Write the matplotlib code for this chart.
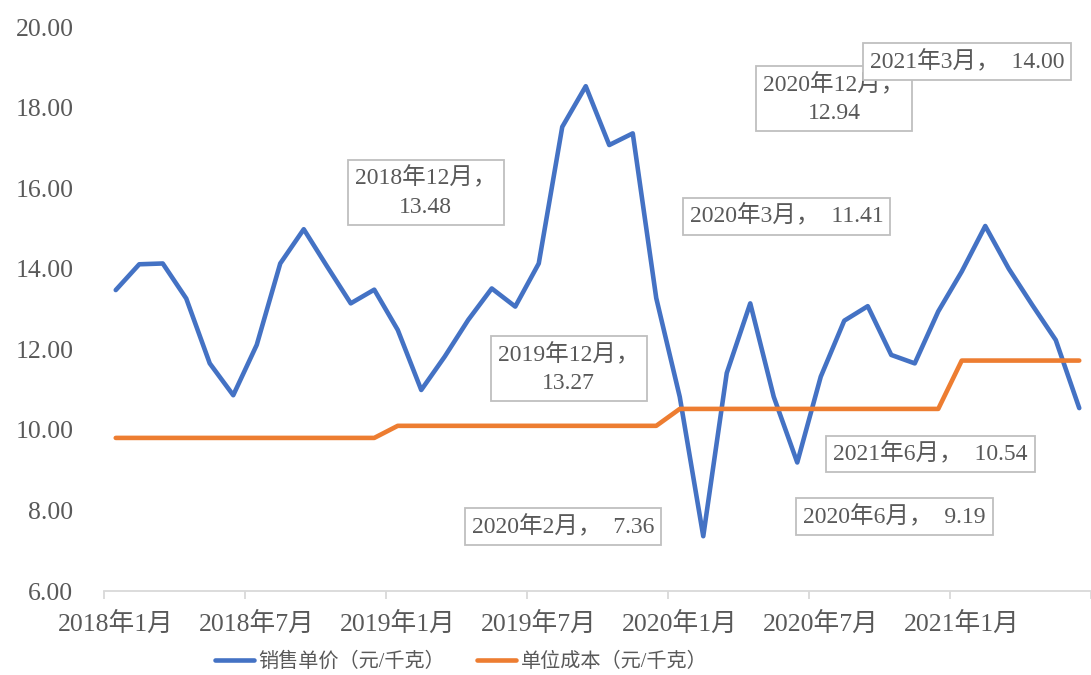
import matplotlib
matplotlib.use('Agg')
import matplotlib.pyplot as plt
import numpy as np

plt.rcParams['font.family'] = ['Liberation Serif', 'Noto Sans CJK SC']

# 2018年1月 .. 2021年6月, one value per month
months = [f'{y}年{m}月' for y in (2018, 2019, 2020, 2021) for m in range(1, 13)][:42]
price = [13.47, 14.11, 14.13, 13.26, 11.65, 10.86, 12.11, 14.13, 14.98, 14.05,
         13.14, 13.48, 12.48, 10.99, 11.82, 12.73, 13.51, 13.06, 14.13, 17.52,
         18.53, 17.07, 17.36, 13.27, 10.82, 7.36, 11.41, 13.14, 10.82, 9.19,
         11.32, 12.71, 13.07, 11.86, 11.65, 12.94, 13.93, 15.06, 14.00, 13.10,
         12.23, 10.54]
cost = [9.80] * 12 + [10.10] * 12 + [10.52] * 12 + [11.72] * 6

# labelled points: month index, offset of the label box (points)
label_idx = [11, 23, 25, 26, 29, 35, 38, 41]
label_off = [(37, 70), (-63, -51), (-101, 7), (43, 113), (70, -39),
             (-75, 153), (-30, 149), (-107, -33)]
two_line = {11, 23, 35}

blue = '#4472C4'
orange = '#ED7D31'
grey = '#595959'

fig = plt.figure(figsize=(10.91, 6.75), dpi=100)
ax = fig.add_axes([104 / 1091, 1 - 591 / 675, 1 - 104 / 1091, (591 - 27) / 675])

x = np.arange(len(months))
ax.plot(x, price, color=blue, lw=3.3, solid_joinstyle='round', solid_capstyle='round',
        label='销售单价（元/千克）')
ax.plot(x, cost, color=orange, lw=3.3, solid_joinstyle='round', solid_capstyle='round',
        label='单位成本（元/千克）')

for i, (dx, dy) in zip(label_idx, label_off):
    if i in two_line:
        txt = f'{months[i]}，\n{price[i]:.2f}'
    else:
        txt = f'{months[i]}，  {price[i]:.2f}'
    ax.annotate(txt, xy=(i, price[i]), xytext=(dx, dy), textcoords='offset points',
                ha='center', va='center', fontsize=17, color=grey,
                linespacing=1.45, annotation_clip=False,
                bbox=dict(boxstyle='square,pad=0.3', fc='white', ec='#BFBFBF', lw=1.3))

ax.set_ylim(6, 20)
ax.set_yticks(np.arange(6, 21, 2))
ax.set_yticklabels([f'{v:.2f}' for v in np.arange(6, 21, 2)])
ax.set_xlim(-0.5, 41.06)

ax.set_xticks(x[::6])
ax.set_xticklabels(months[::6])
ax.set_xticks(np.arange(-0.5, 42, 6), minor=True)
ax.tick_params(axis='x', which='major', length=0, pad=15, labelsize=18.5, labelcolor=grey)
ax.tick_params(axis='x', which='minor', length=6, width=1.3, color='#D9D9D9')
ax.tick_params(axis='y', length=0, pad=22, labelsize=18.5, labelcolor=grey)

for s in ['top', 'right', 'left']:
    ax.spines[s].set_visible(False)
ax.spines['bottom'].set_color('#D9D9D9')
ax.spines['bottom'].set_linewidth(1.3)

fig.legend(loc='center', bbox_to_anchor=(461 / 1091, 1 - 662 / 675), ncol=2,
           frameon=False, fontsize=14.5, handlelength=1.95, handletextpad=0.2,
           columnspacing=1.6, labelcolor=grey)

fig.savefig('out.png', dpi=100)
